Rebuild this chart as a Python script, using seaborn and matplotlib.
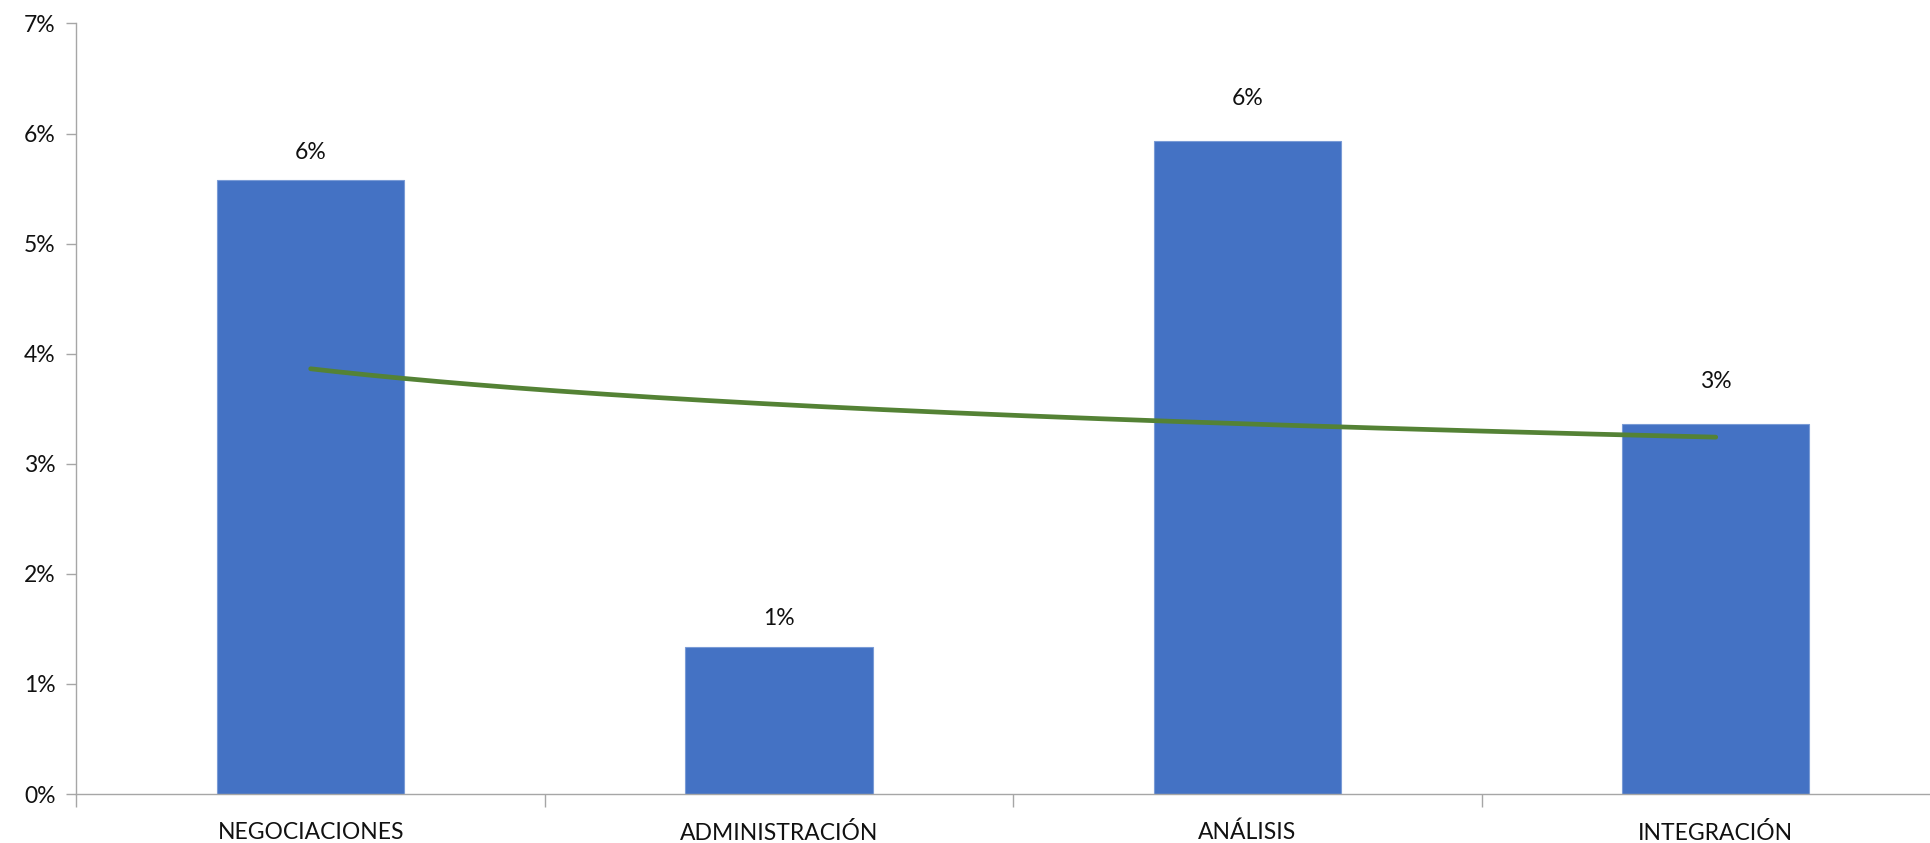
import numpy as np
import pandas as pd
import matplotlib
matplotlib.use("Agg")
import matplotlib.pyplot as plt
import seaborn as sns
from matplotlib.ticker import PercentFormatter, FixedLocator

# data (percent)
areas = ["NEGOCIACIONES", "ADMINISTRACIÓN", "ANÁLISIS", "INTEGRACIÓN"]
valores = [5.58, 1.34, 5.93, 3.36]

df = pd.DataFrame({"area": areas, "valor": valores})

# gap between bar top and its label (the original places them unevenly)
label_gap = [0.25, 0.25, 0.39, 0.39]

sns.set_theme(style="white")
plt.rcParams["font.family"] = ["Lato", "DejaVu Sans"]

fig = plt.figure(figsize=(19.31, 8.43), dpi=100)
# the right end of the axis runs off the picture, as in the original
ax = fig.add_axes([0.0396, 0.0581, 0.9702, 0.9141])

sns.barplot(data=df, x="area", y="valor", color="#4472C4", width=0.4,
            edgecolor="#7a9bd6", linewidth=0.8, saturation=1, ax=ax)

# power trendline (like Excel's), fitted on the bar values
xs = np.arange(1, len(valores) + 1)
b, lna = np.polyfit(np.log(xs), np.log(valores), 1)
xx = np.linspace(1, len(valores), 200)
ax.plot(xx - 1, np.exp(lna) * xx ** b, color="#548235", lw=3.4,
        solid_capstyle="round", zorder=3)

# value labels
for i, v in enumerate(valores):
    ax.text(i, v + label_gap[i], f"{v:.0f}%", ha="center", va="center", fontsize=16.5, color="#111111")

ax.set_xlim(-0.5, 3.5)
ax.set_ylim(0, 7)
ax.yaxis.set_major_formatter(PercentFormatter(decimals=0))
ax.set_yticks(range(0, 8))
ax.set_xlabel("")
ax.set_ylabel("")

# x ticks between categories, labels at centres
ax.xaxis.set_major_locator(FixedLocator([-0.5, 0.5, 1.5, 2.5, 3.5]))
ax.xaxis.set_major_formatter(plt.NullFormatter())
ax.xaxis.set_minor_locator(FixedLocator(range(4)))
ax.set_xticklabels(areas, minor=True)
ax.tick_params(axis="x", which="major", direction="out", length=9, width=1, color="#a6a6a6", bottom=True)
ax.tick_params(axis="x", which="minor", length=0, pad=20, labelsize=16.5, labelcolor="#111111")
ax.tick_params(axis="y", direction="out", length=7, width=1, color="#a6a6a6", left=True,
               labelsize=16.5, labelcolor="#111111", pad=8)

sns.despine(ax=ax, top=True, right=True)
for s in ["left", "bottom"]:
    ax.spines[s].set_color("#a6a6a6")
    ax.spines[s].set_linewidth(1)

fig.savefig("out.png", dpi=100, facecolor="white")
